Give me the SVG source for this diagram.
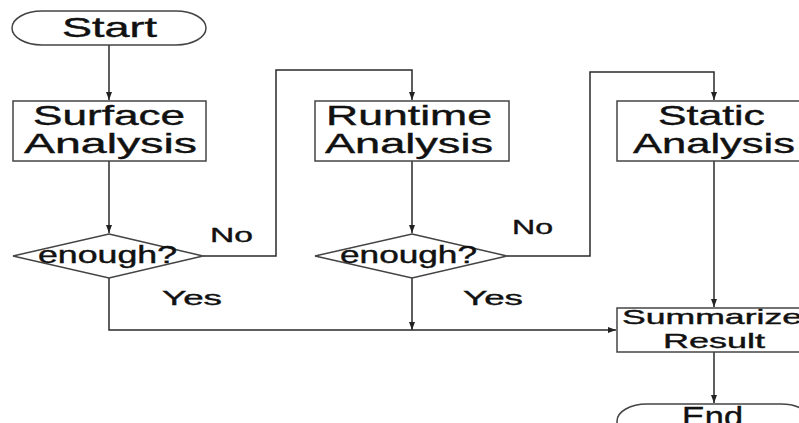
<svg xmlns="http://www.w3.org/2000/svg" width="799" height="423" viewBox="0 0 799 423">
<defs>
<marker id="arr" markerUnits="userSpaceOnUse" markerWidth="8" markerHeight="8" viewBox="0 0 8 8" refX="8" refY="4" orient="auto">
<path d="M0,1 L8,4 L0,7 Z" fill="#222"/>
</marker>
<style>
.shape{fill:#fff;stroke:#444;stroke-width:1.5}
.conn{fill:none;stroke:#2a2a2a;stroke-width:1.5}
text{font-family:"Liberation Sans",Arial,sans-serif;fill:#111;stroke:#111;stroke-width:0.4}
.big{font-size:28px}
.mid{font-size:23px}
.lbl{font-size:21px}
</style>
</defs>
<rect width="799" height="423" fill="#fff"/>
<g id="connectors">
<path class="conn" d="M109,45 V100" marker-end="url(#arr)"/>
<path class="conn" d="M109,161 V233" marker-end="url(#arr)"/>
<path class="conn" d="M203,256 H276 V70 H412 V100" marker-end="url(#arr)"/>
<path class="conn" d="M412,161 V233" marker-end="url(#arr)"/>
<path class="conn" d="M109,278 V330 H616" marker-end="url(#arr)"/>
<path class="conn" d="M412,278 V330" marker-end="url(#arr)"/>
<path class="conn" d="M507,256 H590 V72 H714 V100" marker-end="url(#arr)"/>
<path class="conn" d="M714,161 V307" marker-end="url(#arr)"/>
<path class="conn" d="M714,352 V403" marker-end="url(#arr)"/>
</g>
<g id="start">
<rect class="shape" x="12" y="11" width="194" height="34" rx="30" ry="17"/>
<text class="big" x="62" y="37" textLength="95" lengthAdjust="spacingAndGlyphs">Start</text>
</g>
<g id="surface">
<rect class="shape" x="13" y="101" width="193" height="60"/>
<text class="big" x="33" y="125" textLength="152" lengthAdjust="spacingAndGlyphs">Surface</text>
<text class="big" x="24" y="153" textLength="173" lengthAdjust="spacingAndGlyphs">Analysis</text>
</g>
<g id="decision1">
<polygon class="shape" points="109,234 203,256 109,278 13,256"/>
<text class="mid" x="38" y="263" textLength="139" lengthAdjust="spacingAndGlyphs">enough?</text>
</g>
<g id="runtime">
<rect class="shape" x="315" y="101" width="194" height="60"/>
<text class="big" x="326" y="125" textLength="166" lengthAdjust="spacingAndGlyphs">Runtime</text>
<text class="big" x="325" y="153" textLength="168" lengthAdjust="spacingAndGlyphs">Analysis</text>
</g>
<g id="decision2">
<polygon class="shape" points="412,234 507,256 412,278 315,256"/>
<text class="mid" x="340" y="263" textLength="137" lengthAdjust="spacingAndGlyphs">enough?</text>
</g>
<g id="static">
<rect class="shape" x="617" y="101" width="194" height="60"/>
<text class="big" x="658" y="125" textLength="107" lengthAdjust="spacingAndGlyphs">Static</text>
<text class="big" x="633" y="153" textLength="162" lengthAdjust="spacingAndGlyphs">Analysis</text>
</g>
<g id="summarize">
<rect class="shape" x="617" y="308" width="194" height="44"/>
<text class="lbl" x="622" y="324" textLength="180" lengthAdjust="spacingAndGlyphs">Summarize</text>
<text class="lbl" x="663" y="348" textLength="102" lengthAdjust="spacingAndGlyphs">Result</text>
</g>
<g id="end">
<rect class="shape" x="617" y="404" width="194" height="34" rx="30" ry="17"/>
<text class="big" x="682" y="426" textLength="61" lengthAdjust="spacingAndGlyphs">End</text>
</g>
<g id="labels">
<text class="lbl" x="210" y="242" textLength="43" lengthAdjust="spacingAndGlyphs">No</text>
<text class="lbl" x="512" y="234" textLength="41" lengthAdjust="spacingAndGlyphs">No</text>
<text class="lbl" x="162" y="305" textLength="60" lengthAdjust="spacingAndGlyphs">Yes</text>
<text class="lbl" x="463" y="305" textLength="60" lengthAdjust="spacingAndGlyphs">Yes</text>
</g>
</svg>
